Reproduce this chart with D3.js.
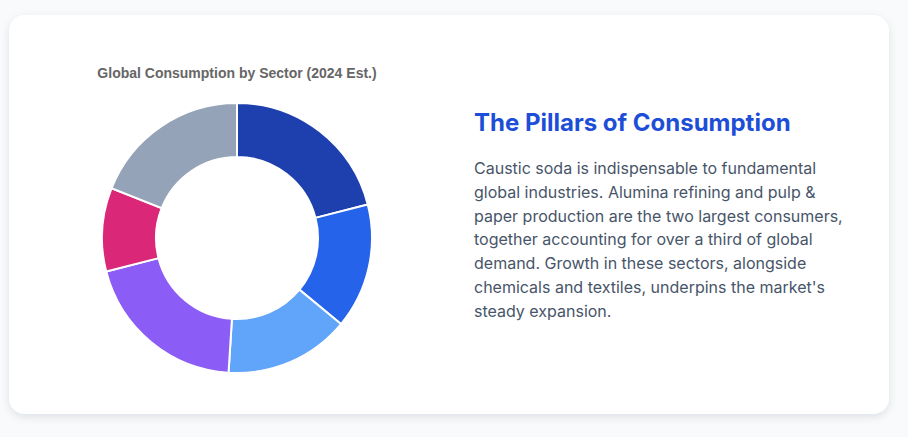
<!DOCTYPE html>
<html>
<head>
<meta charset="utf-8">
<script src="https://cdn.jsdelivr.net/npm/d3@7"></script>
<style>
  html, body { margin: 0; padding: 0; background: #f8fafc; }
  svg { display: block; }
</style>
</head>
<body>
<svg id="chart" width="908" height="437"></svg>
<script>
const categories = ["Alumina", "Pulp & Paper", "Organic Chemicals", "Inorganic Chemicals", "Textiles", "Others"];
const values = [21, 15, 15, 20, 10, 19];
const colors = ["#1e40af", "#2563eb", "#60a5fa", "#8b5cf6", "#db2777", "#94a3b8"];
const chartTitle = "Global Consumption by Sector (2024 Est.)";
const heading = "The Pillars of Consumption";
const paragraphLines = [
  "Caustic soda is indispensable to fundamental",
  "global industries. Alumina refining and pulp &",
  "paper production are the two largest consumers,",
  "together accounting for over a third of global",
  "demand. Growth in these sectors, alongside",
  "chemicals and textiles, underpins the market's",
  "steady expansion."
];

const svg = d3.select("#chart");
const defs = svg.append("defs");
const f = defs.append("filter").attr("id", "shadow").attr("x", "-10%").attr("y", "-10%").attr("width", "120%").attr("height", "130%");
f.append("feDropShadow").attr("dx", 0).attr("dy", 3).attr("stdDeviation", 4).attr("flood-color", "#0f172a").attr("flood-opacity", 0.10);

svg.append("rect").attr("x", 9).attr("y", 15).attr("width", 880).attr("height", 399)
  .attr("rx", 16).attr("fill", "#ffffff").attr("filter", "url(#shadow)");

svg.append("text").attr("x", 237).attr("y", 78).attr("text-anchor", "middle")
  .attr("font-family", "'Liberation Sans', Arial, Helvetica, sans-serif")
  .attr("font-size", 14).attr("font-weight", "bold").attr("fill", "#666666")
  .text(chartTitle);

const cx = 237, cy = 238, outerR = 135, innerR = 81;
const color = d3.scaleOrdinal().domain(categories).range(colors);
const pie = d3.pie().sort(null).value((d, i) => values[i]);
const arc = d3.arc().innerRadius(innerR).outerRadius(outerR);
const g = svg.append("g").attr("transform", `translate(${cx},${cy})`);
g.selectAll("path").data(pie(categories)).join("path")
  .attr("d", arc).attr("fill", d => color(d.data))
  .attr("stroke", "#ffffff").attr("stroke-width", 2);

svg.append("text").attr("x", 474).attr("y", 131)
  .attr("font-family", "Inter, sans-serif").attr("font-size", 24).attr("font-weight", 700)
  .attr("fill", "#1d4ed8").text(heading);

const p = svg.append("text").attr("font-family", "Inter, sans-serif").attr("font-size", 16)
  .attr("fill", "#475569");
paragraphLines.forEach((line, i) => {
  p.append("tspan").attr("x", 474).attr("y", 174 + i * 23.8).text(line);
});
</script>
</body>
</html>
